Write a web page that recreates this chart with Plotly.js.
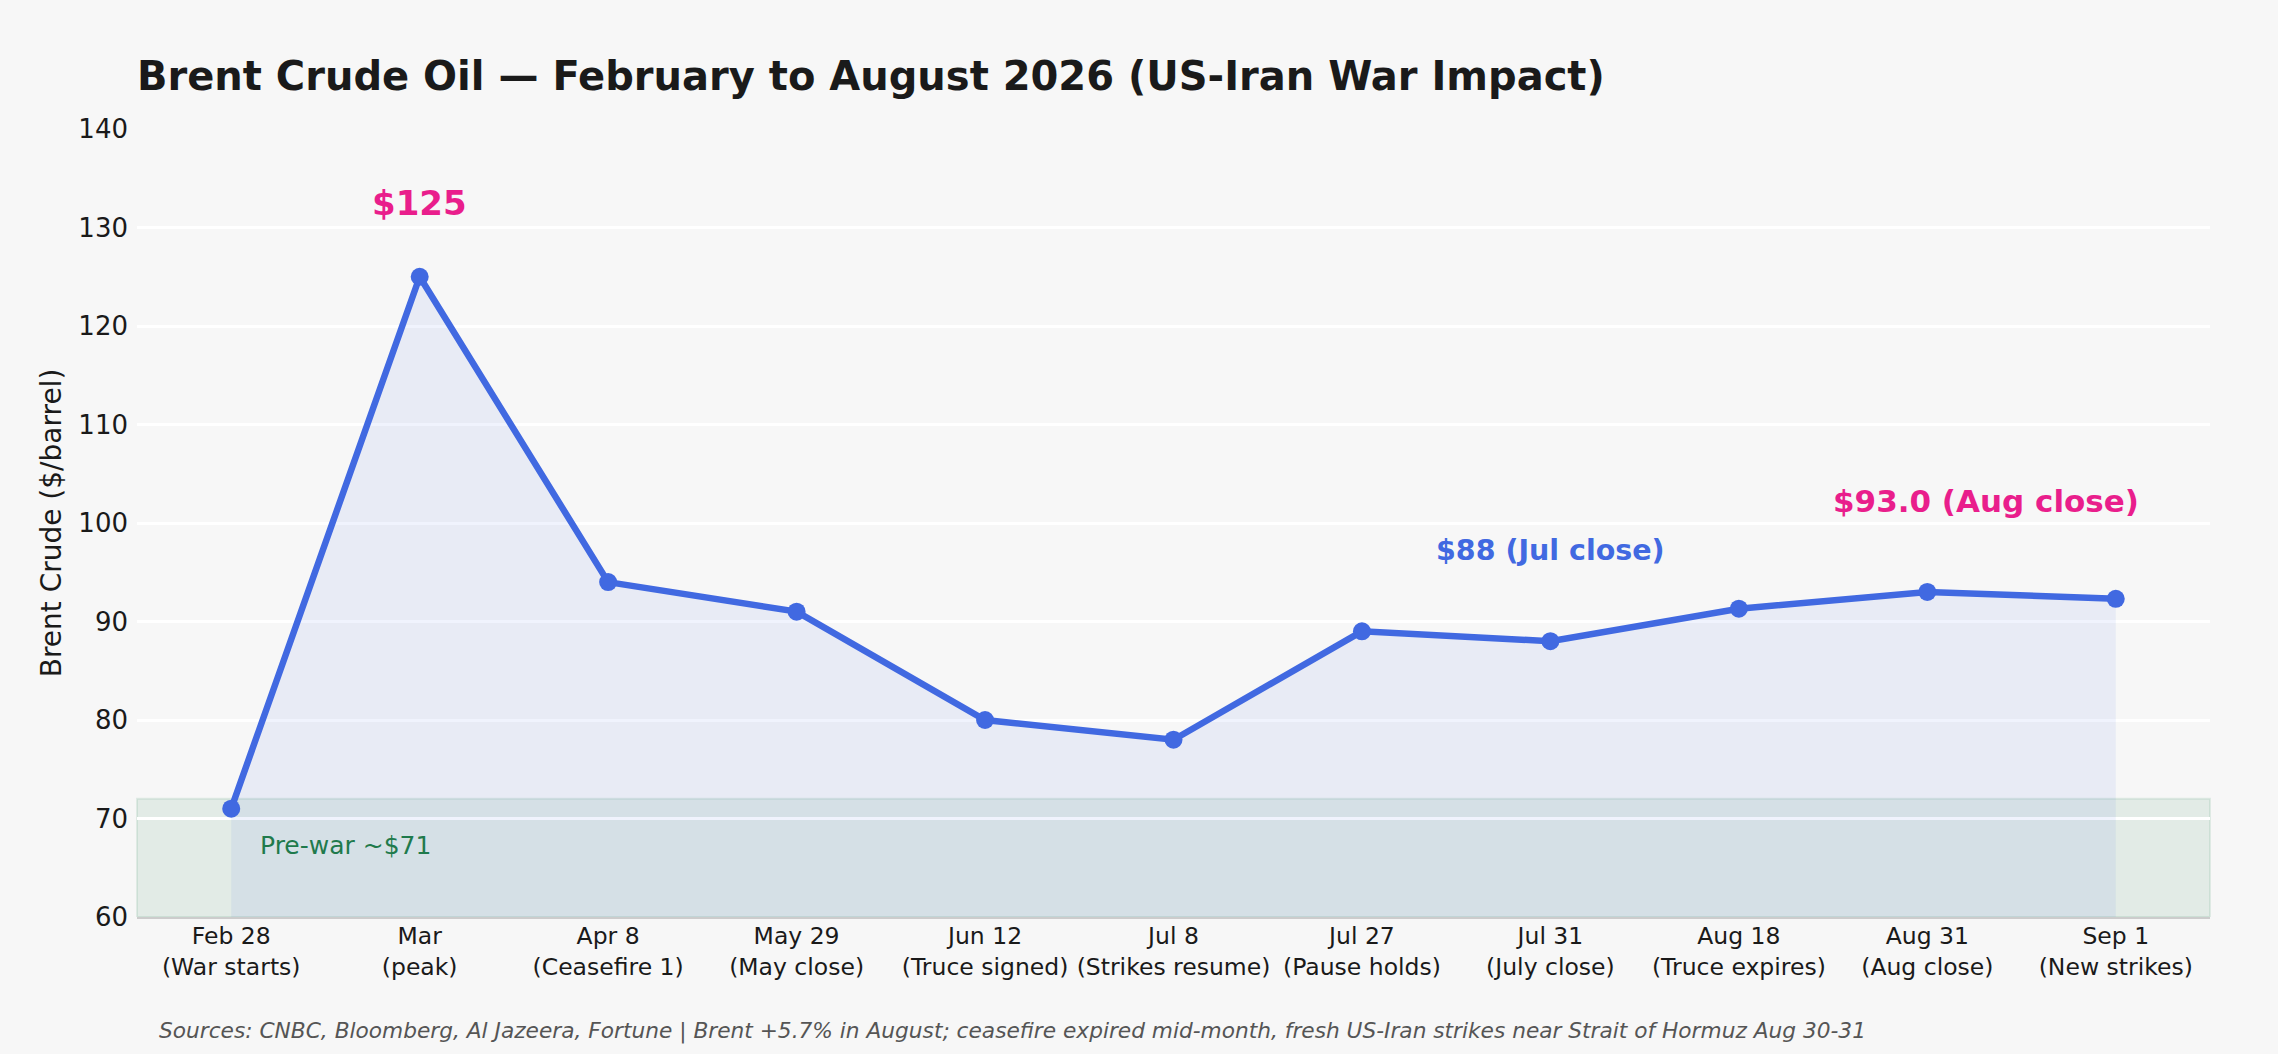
<!DOCTYPE html>
<html>
<head>
<meta charset="utf-8">
<script src="https://cdn.plot.ly/plotly-3.0.1.min.js"></script>
<style>
html,body{margin:0;padding:0;background:#f7f7f7;}
#chart{width:2278px;height:1054px;}
</style>
</head>
<body>
<div id="chart"></div>
<script>
// ---- data ----
const dateLabels = ["Feb 28","Mar","Apr 8","May 29","Jun 12","Jul 8","Jul 27","Jul 31","Aug 18","Aug 31","Sep 1"];
const eventLabels = ["War starts","peak","Ceasefire 1","May close","Truce signed","Strikes resume","Pause holds","July close","Truce expires","Aug close","New strikes"];
const brentPrice = [71, 125, 94, 91, 80, 78, 89, 88, 91.3, 93, 92.3];
const preWarLevel = 71;
const preWarBand = [60, 72];

const idx = dateLabels.map((_, i) => i);
const tickText = dateLabels.map((d, i) => d + "<br>(" + eventLabels[i] + ")");

const FONT = "DejaVu Sans, Verdana, sans-serif";
const BLUE = "#4169E1";
const PINK = "#E91E8C";

const traces = [{
  type: "scatter",
  mode: "lines+markers",
  x: idx,
  y: brentPrice,
  fill: "tozeroy",
  fillcolor: "rgba(65,105,225,0.08)",
  line: {color: BLUE, width: 6.5},
  marker: {color: BLUE, size: 18},
  hoverinfo: "skip",
  showlegend: false
}];

const peakIdx = brentPrice.indexOf(Math.max(...brentPrice));
const julIdx = dateLabels.indexOf("Jul 31");
const augIdx = dateLabels.indexOf("Aug 31");

const plotL = 137, plotR = 68, plotT = 129, plotB = 137, W = 2278, H = 1054;

const layout = {
  width: W,
  height: H,
  paper_bgcolor: "#f7f7f7",
  plot_bgcolor: "#f7f7f7",
  margin: {l: plotL, r: plotR, t: plotT, b: plotB, pad: 0},
  font: {family: FONT, color: "#1a1a1a", size: 26},
  title: {
    text: "Brent Crude Oil \u2014 February to August 2026 (US-Iran War Impact)",
    font: {family: FONT, size: 40, weight: "bold", color: "#1a1a1a"},
    x: 0, xref: "paper", xanchor: "left",
    y: 1 - 76 / H, yref: "container", yanchor: "middle"
  },
  xaxis: {
    range: [-0.5, idx.length - 0.5],
    tickvals: idx,
    ticktext: tickText,
    tickfont: {family: FONT, size: 23.5, color: "#1a1a1a"},
    showgrid: false,
    zeroline: false,
    showline: true,
    linecolor: "#cccccc",
    linewidth: 2,
    ticks: "",
    ticklabelstandoff: -3,
    fixedrange: true
  },
  yaxis: {
    range: [60, 140],
    dtick: 10,
    tickfont: {family: FONT, size: 26, color: "#1a1a1a"},
    showgrid: true,
    gridcolor: "#ffffff",
    gridwidth: 3,
    zeroline: false,
    showline: false,
    ticks: "",
    ticklabelstandoff: 8,
    title: {text: "Brent Crude ($/barrel)", font: {family: FONT, size: 28, color: "#1a1a1a"}, standoff: 8},
    fixedrange: true
  },
  shapes: [{
    type: "rect", xref: "paper", yref: "y",
    x0: 0, x1: 1, y0: preWarBand[0], y1: preWarBand[1],
    fillcolor: "rgba(46,139,87,0.10)",
    line: {color: "rgba(46,139,87,0.12)", width: 2},
    layer: "below"
  }],
  annotations: [
    {x: peakIdx, y: brentPrice[peakIdx] + 7.5, xref: "x", yref: "y", text: "$" + brentPrice[peakIdx],
     showarrow: false, xanchor: "center", yanchor: "middle",
     font: {family: FONT, size: 34, weight: "bold", color: PINK}},
    {x: julIdx, y: brentPrice[julIdx] + 9.2, xref: "x", yref: "y", text: "$" + brentPrice[julIdx] + " (Jul close)",
     showarrow: false, xanchor: "center", yanchor: "middle",
     font: {family: FONT, size: 28.5, weight: "bold", color: BLUE}},
    {x: augIdx + 0.31, y: brentPrice[augIdx] + 9.2, xref: "x", yref: "y", text: "$" + brentPrice[augIdx].toFixed(1) + " (Aug close)",
     showarrow: false, xanchor: "center", yanchor: "middle",
     font: {family: FONT, size: 31, weight: "bold", color: PINK}},
    {x: 0.14, y: preWarLevel - 3.7, xref: "x", yref: "y", text: "Pre-war ~$" + preWarLevel,
     showarrow: false, xanchor: "left", yanchor: "middle",
     font: {family: FONT, size: 25, color: "#1f7a4c"}},
    {x: (157 - plotL) / (W - plotL - plotR), y: (H - plotB - 1031) / (H - plotT - plotB), xref: "paper", yref: "paper",
     text: "<i>Sources: CNBC, Bloomberg, Al Jazeera, Fortune | Brent +5.7% in August; ceasefire expired mid-month, fresh US-Iran strikes near Strait of Hormuz Aug 30-31</i>",
     showarrow: false, xanchor: "left", yanchor: "middle",
     font: {family: FONT, size: 21.7, color: "#555555"}}
  ]
};

Plotly.newPlot("chart", traces, layout, {displayModeBar: false, staticPlot: true});
</script>
</body>
</html>
